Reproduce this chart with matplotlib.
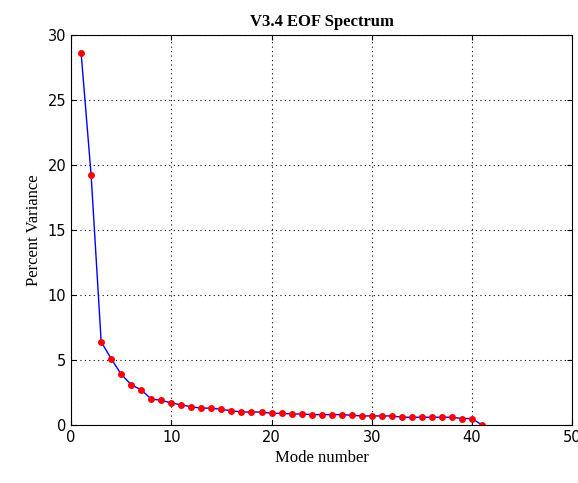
import matplotlib
matplotlib.use('Agg')
import matplotlib.pyplot as plt

# EOF spectrum values
modes = list(range(1, 42))
pct_var = [28.6, 19.2, 6.4, 5.1, 3.9, 3.1, 2.7, 2.0, 1.9, 1.7,
           1.55, 1.4, 1.3, 1.3, 1.2, 1.1, 1.0, 1.0, 1.0, 0.9,
           0.9, 0.85, 0.85, 0.8, 0.8, 0.8, 0.8, 0.75, 0.7, 0.7,
           0.7, 0.7, 0.6, 0.6, 0.6, 0.6, 0.6, 0.6, 0.5, 0.5,
           0.0]

fig = plt.figure(figsize=(5.78, 4.83), dpi=100)
ax = fig.add_axes([0.123, 0.12, 0.867, 0.808])

ax.plot(modes, pct_var, color='blue', linewidth=1)
ax.plot(modes, pct_var, 'o', color='red', markersize=5, markeredgewidth=0)

ax.set_xlim(0, 50)
ax.set_ylim(0, 30)
ax.set_xticks(range(0, 51, 10))
ax.set_yticks(range(0, 31, 5))
ax.grid(True, linestyle=(0, (1, 3)), color='black', linewidth=0.8)
ax.tick_params(direction='in', top=True, right=True, labelsize=10.5)
for sp in ax.spines.values():
    sp.set_linewidth(0.8)

ax.set_title('V3.4 EOF Spectrum', fontfamily='Liberation Serif', fontweight='bold', fontsize=12)
ax.set_xlabel('Mode number', fontfamily='Liberation Serif', fontsize=12)
ax.set_ylabel('Percent Variance', fontfamily='Liberation Serif', fontsize=12)

fig.savefig('out.png', dpi=100)
